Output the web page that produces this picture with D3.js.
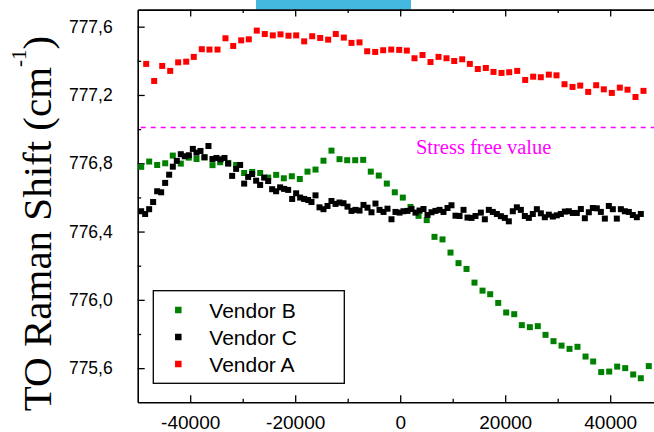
<!DOCTYPE html>
<html>
<head>
<meta charset="utf-8">
<script src="https://cdnjs.cloudflare.com/ajax/libs/d3/7.8.5/d3.min.js"></script>
<style>
body { margin: 0; background: #fff; }
svg { display: block; }
</style>
</head>
<body>
<div id="chart"></div>
<script>
// tick values and labels
var xTicks = [-40000, -20000, 0, 20000, 40000];
var xTickLabels = ["-40000", "-20000", "0", "20000", "40000"];
var xMinorTicks = [-30000, -10000, 10000, 30000, 50000];
var yTicks = [775.6, 776.0, 776.4, 776.8, 777.2, 777.6];
var yTickLabels = ["775,6", "776,0", "776,4", "776,8", "777,2", "777,6"];
var yMinorTicks = [775.8, 776.2, 776.6, 777.0, 777.4];

var stressFree = 777.01;
var seriesNames = ["Vendor B", "Vendor C", "Vendor A"];
var seriesColors = ["#008000", "#000000", "#ff0000"];

// Vendor A (red)
var vendorA_x = [-48380, -46860, -45330, -43810, -42290, -40760, -39320, -37790, -36330, -34800,
    -33280, -31810, -30290, -28840, -27320, -25790, -24270, -22800, -21280, -19810,
    -18290, -16760, -15240, -13720, -12270, -10740, -9280, -7750, -6290, -4760,
    -3240, -1710, -190, 1260, 2720, 4250, 5770, 7300, 8820, 10290,
    11810, 13260, 14780, 16310, 17770, 19300, 20760, 22290, 23810, 25330,
    26780, 28310, 29770, 31300, 32820, 34290, 35810, 37330, 38780, 40310,
    41830, 43300, 44820, 46340];
var vendorA_y = [777.382, 777.282, 777.370, 777.341, 777.391, 777.395, 777.423, 777.468, 777.466, 777.466,
    777.532, 777.487, 777.520, 777.526, 777.577, 777.557, 777.549, 777.555, 777.547, 777.549,
    777.514, 777.544, 777.534, 777.524, 777.557, 777.536, 777.505, 777.508, 777.456, 777.452,
    777.462, 777.466, 777.464, 777.460, 777.415, 777.434, 777.393, 777.423, 777.415, 777.399,
    777.409, 777.382, 777.352, 777.358, 777.335, 777.329, 777.333, 777.341, 777.288, 777.307,
    777.304, 777.319, 777.315, 777.263, 777.247, 777.255, 777.218, 777.257, 777.233, 777.212,
    777.243, 777.231, 777.188, 777.224];

// Vendor B (green)
var vendorB_x = [-49330, -47810, -46290, -44760, -43320, -41790, -40270, -38800, -37280, -35750,
    -34290, -32760, -31240, -29720, -28190, -26670, -25140, -23620, -22170, -20650,
    -19120, -17660, -16130, -14610, -13090, -11560, -10100, -8570, -7050, -5600,
    -4080, -2550, -1030, 500, 1960, 3490, 5050, 6530, 8060, 9580,
    11110, 12630, 14150, 15680, 17140, 18670, 20190, 21720, 23160, 24690,
    26210, 27680, 29200, 30730, 32250, 33770, 35300, 36760, 38290, 39810,
    41330, 42860, 44380, 45830, 47350];
var vendorB_y = [776.779, 776.810, 776.790, 776.800, 776.845, 776.798, 776.833, 776.825, 776.835, 776.789,
    776.806, 776.802, 776.790, 776.743, 776.749, 776.743, 776.716, 776.732, 776.712, 776.724,
    776.708, 776.751, 776.763, 776.815, 776.874, 776.824, 776.818, 776.818, 776.820, 776.751,
    776.728, 776.681, 776.630, 776.599, 776.544, 776.492, 776.467, 776.369, 776.354, 776.277,
    776.215, 776.181, 776.101, 776.054, 776.033, 775.982, 775.926, 775.916, 775.852, 775.840,
    775.846, 775.795, 775.758, 775.732, 775.713, 775.725, 775.668, 775.639, 775.577, 775.580,
    775.609, 775.600, 775.563, 775.541, 775.612];

// Vendor C (black)
var vendorC_x = [-49340, -48580, -47820, -47060, -46290, -45530, -44770, -44010, -43310, -42550,
    -41790, -41030, -40260, -39500, -38800, -38040, -37280, -36520, -35760, -34990,
    -34230, -33470, -32770, -32010, -31250, -30490, -29720, -28960, -28200, -27440,
    -26680, -25910, -25150, -24390, -23630, -22870, -22110, -21340, -20580, -19820,
    -19060, -18300, -17530,
    -16900, -16130, -15370, -14610, -13850, -13090, -12320, -11560, -10800, -10040,
    -9280, -8520, -7750, -6990, -6230, -5470, -4710, -3940, -3180, -2420,
    -1660, -900, -130, 630, 1390, 2150, 2910, 3680, 4440, 5200,
    5960, 6720, 7490, 8250, 9010, 9770, 10530, 11300, 12060, 12820,
    13580, 14340,
    15360, 16120, 16880, 17640, 18410, 19170, 19930, 20690, 21450, 22220,
    22980, 23740, 24500, 25260, 26030, 26790, 27550, 28310, 29070, 29830,
    30600, 31360, 32120, 32880, 33640, 34410, 35170, 35930, 36690, 37450,
    38220, 38980, 39740, 40500, 41260, 42030, 42790, 43550, 44310, 45070,
    45830];
var vendorC_y = [776.519, 776.503, 776.531, 776.573, 776.636, 776.630, 776.685, 776.733, 776.780, 776.814,
    776.853, 776.841, 776.847, 776.884, 776.862, 776.872, 776.835, 776.901, 776.825, 776.831,
    776.823, 776.831, 776.798, 776.726, 776.767, 776.790, 776.681, 776.720, 776.737, 776.698,
    776.673, 776.716, 776.696, 776.648, 776.636, 776.659, 776.650, 776.644, 776.591, 776.624,
    776.599, 776.591, 776.585,
    776.573, 776.612, 776.542, 776.531, 776.550, 776.579, 776.562, 776.570, 776.566, 776.546,
    776.521, 776.527, 776.523, 776.556, 776.540, 776.513, 776.564, 776.527, 776.515, 776.534,
    776.472, 776.515, 776.511, 776.519, 776.521, 776.532, 776.511, 776.523, 776.532, 776.497,
    776.513, 776.521, 776.527, 776.515, 776.538, 776.554, 776.493, 776.491, 776.527, 776.482,
    776.480, 776.491,
    776.511, 776.472, 776.527, 776.515, 776.503, 776.490, 776.480, 776.460, 776.519, 776.542,
    776.527, 776.491, 776.480, 776.503, 776.531, 776.507, 776.484, 776.499, 776.488, 776.495,
    776.503, 776.517, 776.519, 776.509, 776.509, 776.532, 776.478, 776.513, 776.538, 776.536,
    776.515, 776.476, 776.550, 776.531, 776.476, 776.531, 776.519, 776.515, 776.497, 776.484,
    776.503];

var width = 654, height = 432;
var plotLeft = 137.7, plotRight = 662.7, plotTop = 9.6, plotBottom = 402.3;
var sansFont = 'Arial, "Liberation Sans", sans-serif';
var serifFont = '"Times New Roman", "Liberation Serif", serif';

var x = d3.scaleLinear().domain([-50000, 50000]).range([plotLeft, plotRight]);
var y = d3.scaleLinear().domain([775.4, 777.7]).range([plotBottom, plotTop]);

var svg = d3.select('#chart').append('svg')
    .attr('width', width)
    .attr('height', height)
    .style('background', '#fff');

// light blue tab above the frame
svg.append('rect')
    .attr('x', 256)
    .attr('y', 0)
    .attr('width', 155)
    .attr('height', plotTop)
    .attr('fill', '#45b8e0');

function styleAxis(g, showDomain) {
    g.selectAll('line').attr('stroke', '#000').attr('stroke-width', 1.3);
    g.select('.domain').attr('stroke', '#000').attr('stroke-width', 1.6);
    if (!showDomain) g.select('.domain').remove();
    g.selectAll('text')
        .attr('fill', '#000')
        .style('font-family', sansFont);
}

// bottom axis
svg.append('g')
    .attr('transform', 'translate(0,' + plotBottom + ')')
    .call(d3.axisBottom(x).tickValues(xTicks)
        .tickFormat(function(d, i) { return xTickLabels[i]; })
        .tickSize(-7).tickSizeOuter(0).tickPadding(13))
    .call(styleAxis, true)
    .selectAll('text').style('font-size', '19px');

svg.append('g')
    .attr('transform', 'translate(0,' + plotBottom + ')')
    .call(d3.axisBottom(x).tickValues(xMinorTicks).tickFormat('').tickSize(-3.5))
    .call(styleAxis, false);

// top axis
svg.append('g')
    .attr('transform', 'translate(0,' + plotTop + ')')
    .call(d3.axisTop(x).tickValues(xTicks).tickFormat('').tickSize(-7).tickSizeOuter(0))
    .call(styleAxis, true);

svg.append('g')
    .attr('transform', 'translate(0,' + plotTop + ')')
    .call(d3.axisTop(x).tickValues(xMinorTicks).tickFormat('').tickSize(-3.5))
    .call(styleAxis, false);

// left axis
svg.append('g')
    .attr('transform', 'translate(' + plotLeft + ',0)')
    .call(d3.axisLeft(y).tickValues(yTicks)
        .tickFormat(function(d, i) { return yTickLabels[i]; })
        .tickSize(-7).tickSizeOuter(0).tickPadding(25))
    .call(styleAxis, true)
    .selectAll('text').style('font-size', '17.5px');

svg.append('g')
    .attr('transform', 'translate(' + plotLeft + ',0)')
    .call(d3.axisLeft(y).tickValues(yMinorTicks).tickFormat('').tickSize(-3.5))
    .call(styleAxis, false);

// y axis title
var title = svg.append('text')
    .attr('transform', 'translate(51,223.5) rotate(-90)')
    .attr('text-anchor', 'middle')
    .style('font-family', serifFont)
    .style('font-size', '41px')
    .attr('fill', '#000');
title.append('tspan').text('TO Raman Shift (cm');
title.append('tspan').attr('dy', -25).style('font-size', '21px').text('-1');
title.append('tspan').attr('dy', 25).text(')');

// stress free reference line
svg.append('line')
    .attr('x1', plotLeft + 3)
    .attr('x2', width)
    .attr('y1', y(stressFree))
    .attr('y2', y(stressFree))
    .attr('stroke', '#ff00ff')
    .attr('stroke-width', 1.5)
    .attr('stroke-dasharray', '5,5');

svg.append('text')
    .attr('x', x(3000))
    .attr('y', y(776.855))
    .attr('fill', '#ff00ff')
    .style('font-family', serifFont)
    .style('font-size', '20.5px')
    .text('Stress free value');

// data
var series = [
    {xs: vendorB_x, ys: vendorB_y, color: seriesColors[0]},
    {xs: vendorC_x, ys: vendorC_y, color: seriesColors[1]},
    {xs: vendorA_x, ys: vendorA_y, color: seriesColors[2]}
];
var sz = 6;

series.forEach(function(s) {
    svg.append('g')
        .selectAll('rect')
        .data(s.xs.map(function(v, i) { return [v, s.ys[i]]; }))
        .enter().append('rect')
        .attr('x', function(d) { return x(d[0]) - sz / 2; })
        .attr('y', function(d) { return y(d[1]) - sz / 2; })
        .attr('width', sz)
        .attr('height', sz)
        .attr('fill', s.color);
});

// legend
var legend = svg.append('g').attr('transform', 'translate(153.3,290.7)');
legend.append('rect')
    .attr('width', 191)
    .attr('height', 92.6)
    .attr('fill', '#fff')
    .attr('stroke', '#000')
    .attr('stroke-width', 1.3);

var items = legend.selectAll('.item')
    .data(seriesNames)
    .enter().append('g')
    .attr('class', 'item')
    .attr('transform', function(d, i) { return 'translate(0,' + (19.3 + i * 27) + ')'; });

items.append('rect')
    .attr('x', 25 - 3.25)
    .attr('y', -3.25)
    .attr('width', 6.5)
    .attr('height', 6.5)
    .attr('fill', function(d, i) { return seriesColors[i]; });

items.append('text')
    .attr('x', 56)
    .attr('dy', '0.36em')
    .style('font-family', sansFont)
    .style('font-size', '21px')
    .attr('fill', '#000')
    .text(function(d) { return d; });
</script>
</body>
</html>
